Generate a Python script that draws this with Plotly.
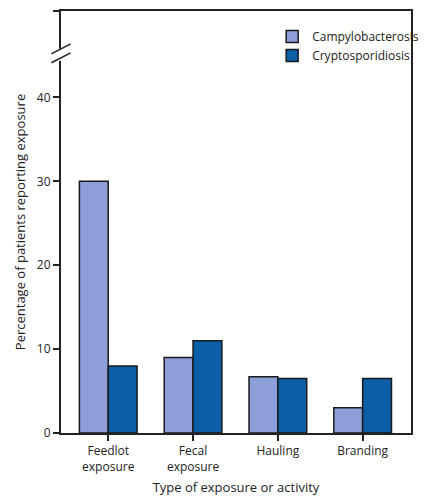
import plotly.graph_objects as go

categories = ["Feedlot<br>exposure", "Fecal<br>exposure", "Hauling", "Branding"]
campy = [30, 9, 6.7, 3]
crypto = [8, 11, 6.5, 6.5]
tick_vals = [0, 10, 20, 30, 40, 50.3]
tick_text = ["0", "10", "20", "30", "40", "100"]

fig = go.Figure()
fig.add_bar(x=categories, y=campy, name="Campylobacterosis",
            marker=dict(color="#8C9FD8", line=dict(color="#1a1a1a", width=1.5)))
fig.add_bar(x=categories, y=crypto, name="Cryptosporidiosis",
            marker=dict(color="#0A5FA6", line=dict(color="#1a1a1a", width=1.5)))

# page has an 8px body margin; figure coordinates = page coordinates - 8
W, H = 417, 488
l, r, t, b = 53, 1, 1, 63
pw, ph = W - l - r, H - t - b

def py(pix):
    return 1 - (pix - 8 - t) / ph

def px(pix):
    return (pix - 8 - l) / pw

fig.update_layout(
    width=W, height=H, margin=dict(l=l, r=r, t=t, b=b),
    plot_bgcolor="white", paper_bgcolor="white",
    barmode="group", bargap=0.32, bargroupgap=0,
    font=dict(family="Open Sans", size=12, color="#222"),
    legend=dict(x=px(280), y=py(20), xanchor="left", yanchor="top",
                font=dict(size=12), bgcolor="rgba(0,0,0,0)", tracegroupgap=0),
    xaxis=dict(range=[-0.557, 3.57], showline=True, linecolor="#222", linewidth=2,
               mirror=True, ticks="outside", ticklen=6, tickcolor="#222", tickwidth=1.5,
               title=dict(text="Type of exposure or activity", font=dict(size=13), standoff=10)),
    yaxis=dict(range=[0, 50.3], tickvals=tick_vals, ticktext=tick_text, showgrid=False,
               zeroline=False, showline=True, linecolor="#222", linewidth=2, mirror=True,
               ticks="outside", ticklen=6, tickcolor="#222", tickwidth=1.5,
               title=dict(text="Percentage of patients reporting exposure", font=dict(size=13), standoff=8)),
)
# axis break
fig.add_shape(type="rect", xref="paper", yref="paper", x0=px(56), x1=px(66),
              y0=py(59), y1=py(47), fillcolor="white", line_width=0, layer="above")
for y0 in (52, 61):
    fig.add_shape(type="line", xref="paper", yref="paper", x0=px(51), x1=px(71),
                  y0=py(y0), y1=py(y0 - 10),
                  line=dict(color="#222", width=1.5), layer="above")
fig.write_html("out.html")
